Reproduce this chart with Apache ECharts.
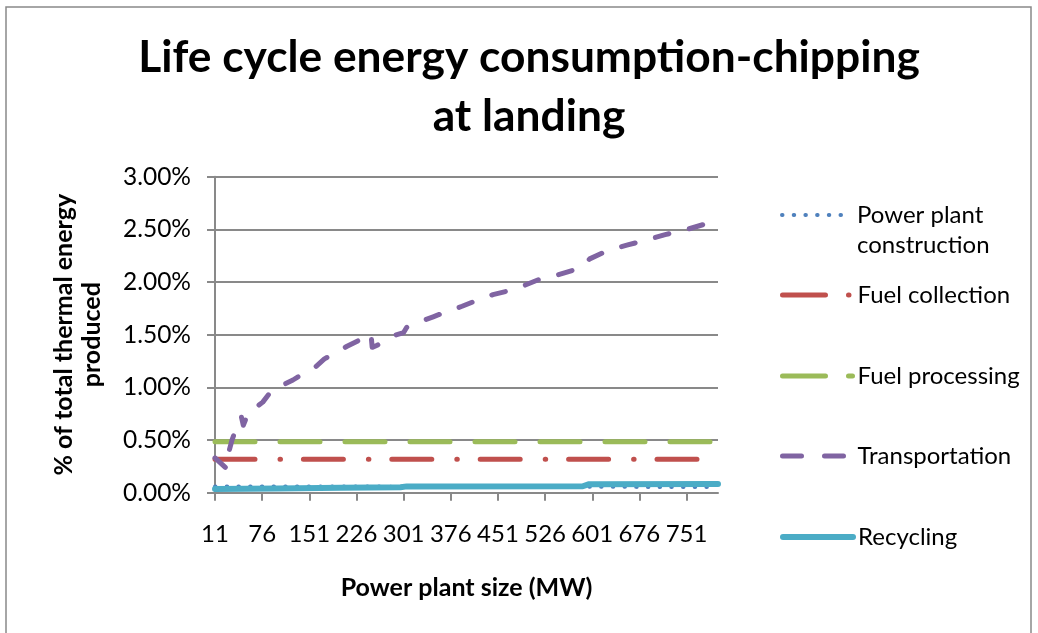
<!DOCTYPE html>
<html>
<head>
<meta charset="utf-8">
<script src="https://cdn.jsdelivr.net/npm/echarts@6/dist/echarts.min.js"></script>
<style>
  html, body { margin: 0; padding: 0; background: #ffffff; }
  #chart { width: 1038px; height: 633px; }
</style>
</head>
<body>
<div id="chart"></div>
<script>
// Plant sizes on the category axis (MW)
const sizesMW = [11, 26, 51, 76, 101, 126, 151, 176, 201, 226, 251, 276, 301, 326, 351, 376,
  401, 426, 451, 476, 501, 526, 551, 576, 601, 626, 651, 676, 701, 726, 751, 776, 801];

// Share of total thermal energy produced (%) by life-cycle stage
const constructionMW  = [11, 201, 401, 601, 801];
const constructionPct = [0.060, 0.058, 0.057, 0.056, 0.054];

const collectionMW  = [11, 801];
const collectionPct = [0.317, 0.317];

const processingMW  = [11, 801];
const processingPct = [0.483, 0.483];

const transportMW  = [11, 22, 24, 28, 33, 41, 43, 46, 54, 64, 77, 86, 99, 108, 125, 141, 160, 175,
  193, 211, 231, 249, 251, 259, 279, 301, 306, 321, 348, 370, 394, 419, 443, 470, 494, 523, 547,
  575, 588, 597, 626, 656, 688, 717, 752, 780, 801];
const transportPct = [0.33, 0.23, 0.38, 0.50, 0.58, 0.69, 0.72, 0.64, 0.76, 0.80, 0.86, 0.93, 1.00,
  1.02, 1.07, 1.13, 1.19, 1.27, 1.33, 1.39, 1.45, 1.51, 1.38, 1.40, 1.48, 1.52, 1.57, 1.61, 1.67,
  1.72, 1.77, 1.83, 1.88, 1.92, 1.97, 2.04, 2.07, 2.12, 2.16, 2.22, 2.30, 2.35, 2.40, 2.45, 2.50,
  2.55, 2.57];

const recyclingMW  = [11, 101, 201, 296, 306, 586, 596, 801];
const recyclingPct = [0.035, 0.041, 0.047, 0.052, 0.060, 0.061, 0.081, 0.082];

const yTicks = { min: 0, max: 3, step: 0.5 };
const labelEvery = 3;   // every third plant size gets a tick and a label

// Position of a plant size along the category axis (category index units)
function posOf(mw) {
  for (let i = 0; i < sizesMW.length - 1; i++) {
    if (mw <= sizesMW[i + 1]) {
      return i + (mw - sizesMW[i]) / (sizesMW[i + 1] - sizesMW[i]);
    }
  }
  return sizesMW.length - 1;
}
function pairs(xs, ys) { return xs.map((x, i) => [posOf(x), ys[i]]); }

const FONT = 'Lato';
const GREY = '#898989';

const seriesDefs = [
  { name: 'Power plant construction', label: ' \nPower plant\nconstruction', color: '#4F81BD',
    xs: constructionMW, ys: constructionPct, width: 4, dash: [0.5, 11.2], legendDash: [0.5, 11.2] },
  { name: 'Fuel collection', label: 'Fuel collection', color: '#C0504D',
    xs: collectionMW, ys: collectionPct, width: 5, dash: [40, 25, 0.5, 22.9], legendDash: [43, 23, 0.5, 30] },
  { name: 'Fuel processing', label: 'Fuel processing', color: '#9BBB59',
    xs: processingMW, ys: processingPct, width: 5, dash: [40, 25], legendDash: [43, 23] },
  { name: 'Transportation', label: 'Transportation', color: '#8064A2',
    xs: transportMW, ys: transportPct, width: 5, dash: [14, 21], legendDash: [19, 23] },
  { name: 'Recycling', label: 'Recycling', color: '#4BACC6',
    xs: recyclingMW, ys: recyclingPct, width: 6, dash: 'solid', legendDash: 'solid' }
];

const legendIconY = [215, 295, 376, 456, 537];

const chart = echarts.init(document.getElementById('chart'), null, { renderer: 'canvas' });

chart.setOption({
  animation: false,
  backgroundColor: '#ffffff',
  textStyle: { fontFamily: FONT },
  title: {
    text: 'Life cycle energy consumption-chipping\nat landing',
    left: 524,
    top: 23,
    textAlign: 'center',
    textStyle: { fontFamily: FONT, fontWeight: 'bold', fontSize: 44.3, lineHeight: 59, color: '#000' }
  },
  graphic: [{
    type: 'rect',
    shape: { x: 6, y: 7, width: 1025, height: 700 },
    style: { fill: 'none', stroke: GREY, lineWidth: 1.5 },
    silent: true
  }],
  grid: { left: 215, right: 320, top: 176.7, bottom: 140.3, outerBoundsMode: 'none' },
  xAxis: [{
    type: 'category',
    data: sizesMW.map(String),
    boundaryGap: false,
    name: 'Power plant size (MW)',
    nameLocation: 'middle',
    nameGap: 83,
    nameTextStyle: { fontFamily: FONT, fontWeight: 'bold', fontSize: 25, color: '#000' },
    axisLine: { lineStyle: { color: GREY, width: 2 } },
    axisTick: { show: true, interval: i => i % labelEvery === 0, length: 8, lineStyle: { color: GREY, width: 2 } },
    axisLabel: { interval: i => i % labelEvery === 0, margin: 30, fontSize: 24, color: '#000', fontFamily: FONT },
    splitLine: { show: false }
  }, {
    type: 'value',
    min: 0,
    max: sizesMW.length - 1,
    show: false
  }],
  yAxis: {
    type: 'value',
    min: yTicks.min,
    max: yTicks.max,
    interval: yTicks.step,
    name: '% of total thermal energy\nproduced',
    nameLocation: 'middle',
    nameGap: 109,
    nameRotate: 90,
    nameTextStyle: { fontFamily: FONT, fontWeight: 'bold', fontSize: 25, lineHeight: 28, color: '#000' },
    axisLine: { show: true, lineStyle: { color: GREY, width: 2 } },
    axisTick: { show: true, length: 8, lineStyle: { color: GREY, width: 2 } },
    axisLabel: { margin: 24, fontSize: 24.5, color: '#000', fontFamily: FONT,
      formatter: v => v.toFixed(2) + '%' },
    splitLine: { show: true, lineStyle: { color: GREY, width: 2 } }
  },
  legend: seriesDefs.map((s, i) => ({
    data: [s.name],
    orient: 'vertical',
    left: 780,
    top: i === 0 ? legendIconY[i] - 45 : legendIconY[i] - 15,
    padding: 0,
    itemWidth: 70,
    itemHeight: 14,
    selectedMode: false,
    formatter: () => s.label,
    itemStyle: { opacity: 0 },
    lineStyle: { color: s.color, width: s.width, type: s.legendDash, cap: 'round' },
    textStyle: { fontFamily: FONT, fontSize: 24, lineHeight: 30, color: '#000' }
  })),
  series: seriesDefs.map(s => ({
    name: s.name,
    type: 'line',
    xAxisIndex: 1,
    color: s.color,
    symbol: 'none',
    data: pairs(s.xs, s.ys),
    lineStyle: { color: s.color, width: s.width, type: s.dash, cap: 'round', join: 'round' },
    emphasis: { disabled: true }
  }))
});
</script>
</body>
</html>
